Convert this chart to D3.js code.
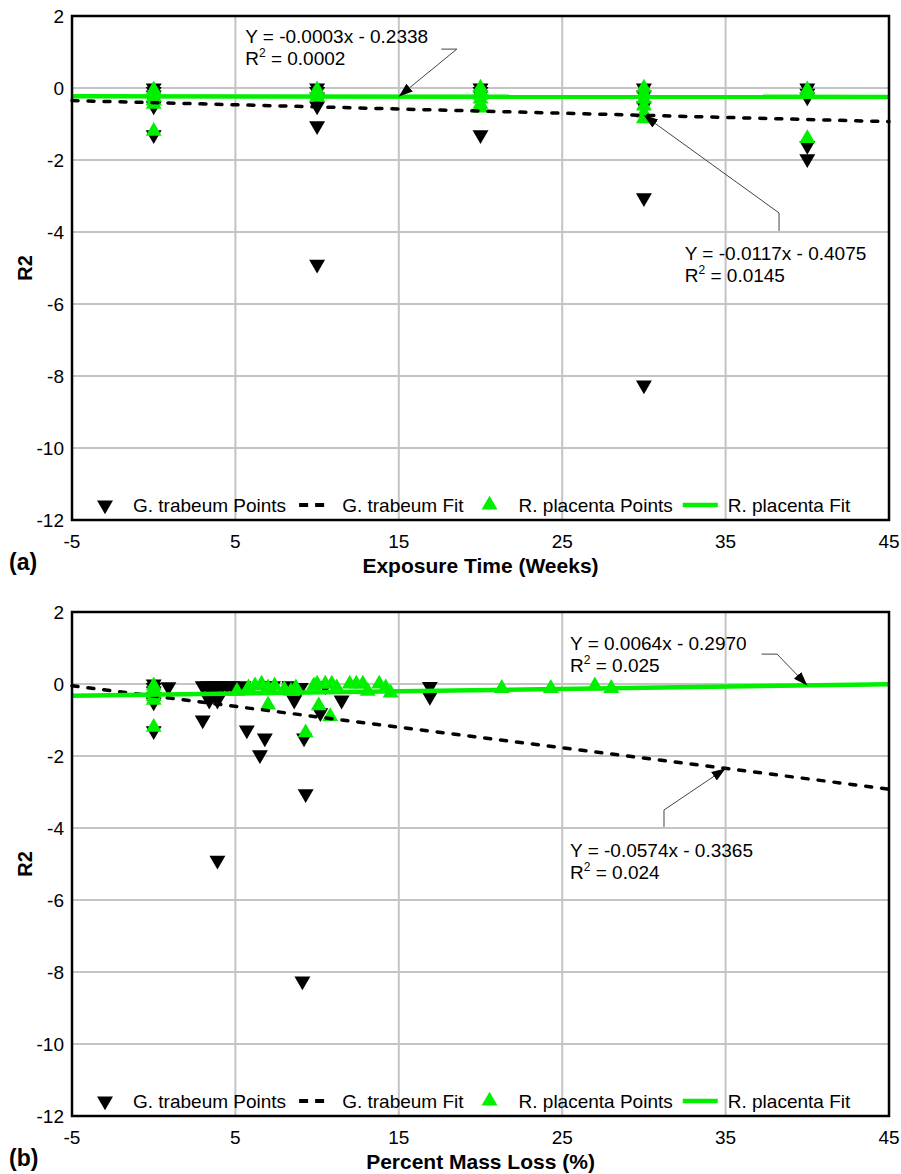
<!DOCTYPE html>
<html lang="en">
<head>
<meta charset="UTF-8">
<title>R2 vs exposure time and mass loss</title>
<script src="https://d3js.org/d3.v7.min.js"></script>
<style>
  body { margin: 0; background: #fff; }
  svg { display: block; font-family: "Liberation Sans", Arial, sans-serif; }
</style>
</head>
<body>
<svg id="chart" width="901" height="1174"></svg>
<script>
  // axis ticks (same for both panels)
  const xTicks = [-5, 5, 15, 25, 35, 45];
  const yTicks = [2, 0, -2, -4, -6, -8, -10, -12];

  // panel (a): R2 vs exposure time, [weeks, R2]
  const gtTime = [
    [0, 0], [0, -0.1], [0, -0.2], [0, -0.35], [0, -0.5], [0, -1.3],
    [10, 0], [10, -0.1], [10, -0.25], [10, -0.5], [10, -1.05], [10, -4.9],
    [20, 0], [20, -0.1], [20, -0.2], [20, -1.3],
    [30, 0], [30, -0.2], [30, -0.5], [30, -3.05], [30, -8.25],
    [40, 0], [40, -0.15], [40, -0.25], [40, -1.6], [40, -1.97]
  ];
  const rpTime = [
    [0, -0.05], [0, -0.15], [0, -0.25], [0, -0.35], [0, -0.45], [0, -1.2],
    [10, -0.05], [10, -0.15], [10, -0.25],
    [20, 0], [20, -0.1], [20, -0.2], [20, -0.3], [20, -0.45], [20, -0.55],
    [30, 0], [30, -0.15], [30, -0.3], [30, -0.5], [30, -0.7], [30, -0.85],
    [40, -0.05], [40, -0.15], [40, -1.4]
  ];

  // panel (b): R2 vs percent mass loss, [%, R2]
  const gtMass = [
    [0, 0], [0, -0.1], [0, -0.2], [0, -0.35], [0, -0.5], [0, -1.3],
    [0.9, -0.08],
    [3.0, -0.05], [3.3, -0.05], [3.6, -0.05], [3.9, -0.05], [4.2, -0.05], [4.5, -0.05],
    [3.4, -0.45], [3.9, -0.45], [3.6, -0.3], [3.0, -1.0], [3.9, -4.9],
    [4.8, -0.05], [5.5, -0.05], [6.8, -0.05], [7.3, -0.05], [8.3, -0.05], [9.0, -0.1],
    [5.7, -1.28], [6.8, -1.5], [6.5, -1.97], [8.6, -0.45],
    [9.2, -1.5], [9.3, -3.05], [9.1, -8.25],
    [10.2, -0.8], [11.5, -0.45], [10.5, -0.05],
    [16.9, -0.07], [16.9, -0.35]
  ];
  const rpMass = [
    [0, -0.05], [0, -0.15], [0, -0.25], [0, -0.35], [0, -0.45], [0, -1.2],
    [5.1, -0.2], [5.8, -0.1], [6.2, -0.05], [6.6, 0], [7.0, -0.1], [7.4, -0.05],
    [7.0, -0.58], [8.0, -0.15], [8.4, -0.2], [8.7, -0.1],
    [9.3, -1.35], [9.8, -0.05], [10.1, -0.6], [10.8, -0.9],
    [10.0, 0], [10.5, 0], [10.9, 0], [11.2, -0.1], [12.0, 0], [12.4, 0], [12.8, 0],
    [13.1, -0.2], [13.8, 0], [14.2, -0.1], [14.5, -0.25],
    [21.3, -0.12], [24.3, -0.12], [27.0, -0.05], [28.0, -0.12]
  ];

  // linear fits: slope, intercept, r squared label
  const gtFitTime = { m: -0.0117, b: -0.4075, r2: "0.0145", eq: "Y = -0.0117x - 0.4075" };
  const rpFitTime = { m: -0.0003, b: -0.2338, r2: "0.0002", eq: "Y = -0.0003x - 0.2338" };
  const gtFitMass = { m: -0.0574, b: -0.3365, r2: "0.024", eq: "Y = -0.0574x - 0.3365" };
  const rpFitMass = { m: 0.0064, b: -0.2970, r2: "0.025", eq: "Y = 0.0064x - 0.2970" };

  const GREEN = "#00f000";
  const left = 72, right = 889, plotH = 504;

  const svg = d3.select("#chart");

  // arrow head for the leader lines
  svg.append("defs").append("marker")
    .attr("id", "arrow")
    .attr("markerUnits", "userSpaceOnUse")
    .attr("viewBox", "-14 -6 15 12")
    .attr("refX", 0).attr("refY", 0)
    .attr("markerWidth", 15).attr("markerHeight", 12)
    .attr("orient", "auto")
    .append("path")
    .attr("d", "M0,0 L-14,-5 L-14,5 Z")
    .attr("fill", "#000");

  const panels = [
    {
      top: 16, tag: "(a)", xTitle: "Exposure Time (Weeks)",
      gt: gtTime, rp: rpTime, gtFit: gtFitTime, rpFit: rpFitTime,
      notes: [
        { fit: "rp", at: [5.6, 1.25], path: [[17.6, 1.08], [18.55, 1.08]], tipX: 15 },
        { fit: "gt", at: [32.5, -4.78], path: [[38.27, -3.97], [38.27, -3.47]], tipX: 30 }
      ]
    },
    {
      top: 612, tag: "(b)", xTitle: "Percent Mass Loss (%)",
      gt: gtMass, rp: rpMass, gtFit: gtFitMass, rpFit: rpFitMass,
      notes: [
        { fit: "rp", at: [25.48, 0.94], path: [[37.2, 0.83], [38.15, 0.83]], tipX: 40 },
        { fit: "gt", at: [25.48, -4.81], path: [[31.23, -3.97], [31.23, -3.5]], tipX: 35 }
      ]
    }
  ];

  panels.forEach(drawPanel);

  function drawPanel(p) {
    const x = d3.scaleLinear().domain([-5, 45]).range([left, right]);
    const y = d3.scaleLinear().domain([-12, 2]).range([p.top + plotH, p.top]);
    const g = svg.append("g");

    // grid
    g.append("g").selectAll("line.v")
      .data(xTicks.slice(1, -1)).enter().append("line")
      .attr("x1", d => x(d)).attr("x2", d => x(d))
      .attr("y1", y(2)).attr("y2", y(-12))
      .attr("stroke", "#c4c4c4").attr("stroke-width", 2);
    g.append("g").selectAll("line.h")
      .data(yTicks.slice(1, -1)).enter().append("line")
      .attr("x1", x(-5)).attr("x2", x(45))
      .attr("y1", d => y(d)).attr("y2", d => y(d))
      .attr("stroke", "#c4c4c4").attr("stroke-width", 2);

    // tick labels
    g.append("g").selectAll("text")
      .data(yTicks).enter().append("text")
      .attr("x", left - 8).attr("y", d => y(d)).attr("dy", "0.35em")
      .attr("text-anchor", "end").attr("font-size", 19)
      .text(d => d);
    g.append("g").selectAll("text")
      .data(xTicks).enter().append("text")
      .attr("x", d => x(d)).attr("y", y(-12) + 28)
      .attr("text-anchor", "middle").attr("font-size", 19)
      .text(d => d);

    // axis titles and panel tag
    g.append("text")
      .attr("x", (left + right) / 2).attr("y", y(-12) + 53)
      .attr("text-anchor", "middle").attr("font-size", 21).attr("font-weight", "bold")
      .text(p.xTitle);
    g.append("text")
      .attr("transform", `translate(32,${(y(2) + y(-12)) / 2}) rotate(-90)`)
      .attr("text-anchor", "middle").attr("font-size", 20).attr("font-weight", "bold")
      .text("R2");
    g.append("text")
      .attr("x", 9).attr("y", y(-12) + 50)
      .attr("font-size", 23).attr("font-weight", "bold")
      .text(p.tag);

    // points
    const tri = d3.symbol().type(d3.symbolTriangle).size(110);
    g.append("g").selectAll("path")
      .data(p.gt).enter().append("path")
      .attr("d", tri)
      .attr("transform", d => `translate(${x(d[0])},${y(d[1])}) rotate(180)`)
      .attr("fill", "#000");
    g.append("g").selectAll("path")
      .data(p.rp).enter().append("path")
      .attr("d", tri)
      .attr("transform", d => `translate(${x(d[0])},${y(d[1])})`)
      .attr("fill", GREEN);

    // fit lines
    const fitLine = f => d3.line()
      .x(d => x(d)).y(d => y(f.m * d + f.b))([-5, 45]);
    g.append("path").attr("d", fitLine(p.gtFit))
      .attr("fill", "none").attr("stroke", "#000").attr("stroke-width", 3.5)
      .attr("stroke-dasharray", "6,10").attr("stroke-linecap", "round");
    g.append("path").attr("d", fitLine(p.rpFit))
      .attr("fill", "none").attr("stroke", GREEN).attr("stroke-width", 4.5);

    // equation notes with leader arrows
    p.notes.forEach(n => {
      const f = n.fit === "gt" ? p.gtFit : p.rpFit;
      const pts = n.path.map(d => [x(d[0]), y(d[1])]);
      pts.push([x(n.tipX), y(f.m * n.tipX + f.b)]);
      g.append("path").attr("d", d3.line()(pts))
        .attr("fill", "none").attr("stroke", "#444").attr("stroke-width", 1)
        .attr("marker-end", "url(#arrow)");
      g.append("text")
        .attr("x", x(n.at[0])).attr("y", y(n.at[1]))
        .attr("font-size", 19)
        .text(f.eq);
      const t2 = g.append("text")
        .attr("x", x(n.at[0])).attr("y", y(n.at[1]) + 21.5)
        .attr("font-size", 19);
      t2.append("tspan").text("R");
      t2.append("tspan").attr("font-size", 12).attr("dy", -8).text("2");
      t2.append("tspan").attr("dy", 8).text(" = " + f.r2);
    });

    // legend (inside the plot, at the bottom)
    const ly = y(-12) - 15;
    const lg = g.append("g").attr("font-size", 19);
    let cx = left + 33;
    lg.append("path").attr("d", tri)
      .attr("transform", `translate(${cx},${ly}) rotate(180)`).attr("fill", "#000");
    cx += 28;
    let t = lg.append("text").attr("x", cx).attr("y", ly + 6.5).text("G. trabeum Points");
    cx += t.node().getComputedTextLength() + 13;
    lg.append("line").attr("x1", cx).attr("x2", cx + 25).attr("y1", ly).attr("y2", ly)
      .attr("stroke", "#000").attr("stroke-width", 4).attr("stroke-dasharray", "9,7");
    cx += 25 + 18;
    t = lg.append("text").attr("x", cx).attr("y", ly + 6.5).text("G. trabeum Fit");
    cx += t.node().getComputedTextLength() + 26;
    lg.append("path").attr("d", tri)
      .attr("transform", `translate(${cx},${ly})`).attr("fill", GREEN);
    cx += 29;
    t = lg.append("text").attr("x", cx).attr("y", ly + 6.5).text("R. placenta Points");
    cx += t.node().getComputedTextLength() + 10;
    lg.append("line").attr("x1", cx).attr("x2", cx + 35).attr("y1", ly).attr("y2", ly)
      .attr("stroke", GREEN).attr("stroke-width", 4.5);
    cx += 35 + 10;
    lg.append("text").attr("x", cx).attr("y", ly + 6.5).text("R. placenta Fit");

    // frame
    g.append("rect")
      .attr("x", left).attr("y", p.top)
      .attr("width", right - left).attr("height", plotH)
      .attr("fill", "none").attr("stroke", "#000").attr("stroke-width", 2.5);
  }
</script>
</body>
</html>
